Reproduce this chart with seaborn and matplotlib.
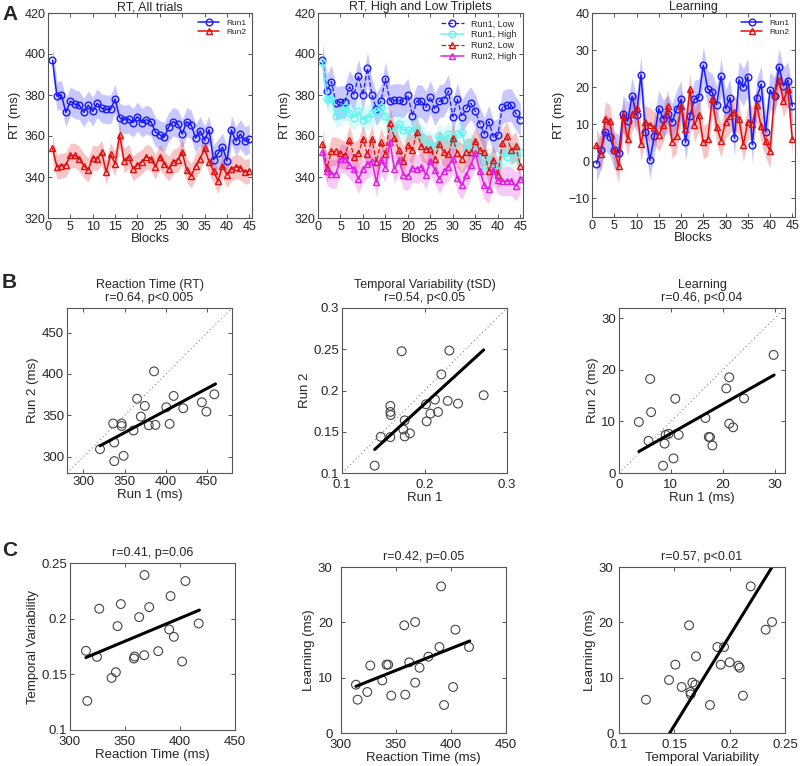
import numpy as np
import matplotlib
matplotlib.use("Agg")
import matplotlib.pyplot as plt
import seaborn as sns

sns.set_style("ticks")
plt.rcParams['font.family'] = ['Liberation Sans', 'DejaVu Sans']

# ---------------- DATA ----------------
blocks = list(range(1, 46))

all_run1 = [397, 379.5, 380, 371.5, 377, 375.5, 375, 371.5, 375, 372, 376, 373.5, 373, 373, 378,
            369, 368, 368.5, 366.5, 369.5, 366.5, 368, 367, 362, 360.5, 359.5, 364.5, 367, 366, 361,
            367, 365.5, 359, 362.5, 358, 363, 348.5, 351.5, 354.5, 348, 363, 357.5, 361, 357.5, 358.5]
all_run2 = [354, 345, 345.5, 346, 350.5, 350.5, 349, 345.5, 343.5, 349.5, 349, 352, 342.5, 351, 346.5,
            360.5, 348, 350, 344, 346, 347.5, 350, 349, 345, 350, 346.5, 344, 347.5, 348.5, 352,
            343.5, 340.5, 345.5, 349, 354, 347.5, 343, 338, 345.5, 341, 344, 345, 344.5, 342.5, 343]
all_err = {"Run1": 7, "Run2": 6}

run1_low = [397, 382, 386.5, 376, 376.5, 376.5, 384, 380, 389.5, 380, 393, 380, 373, 377, 388,
            377, 377.5, 377.5, 377, 380, 370, 377, 377, 374, 379, 373, 377, 377.5, 382, 369.5,
            378, 369.5, 373.5, 376, 372, 366, 361, 367, 359.5, 360.5, 374, 375, 375, 371, 368]
run1_high = [396, 378, 378, 370, 371, 374, 371, 369, 372, 368, 369, 371, 372, 374, 370,
             364, 363, 366, 363, 363, 362, 364, 360, 357, 356, 355, 360, 358, 361, 356,
             361, 362, 353, 356, 353, 351, 346, 349, 345, 346, 352, 350, 352, 350, 352]
run2_low = [356, 344.5, 352.5, 352.5, 351.5, 350.5, 358, 350, 351.5, 358.5, 351, 358.5, 347.5, 357, 351,
            366.5, 359, 353, 348, 355.5, 353, 362, 355, 353.5, 353.5, 349, 356, 352, 351, 359,
            351.5, 349, 352, 352, 357.5, 353, 352, 343, 348.5, 341, 356.5, 360, 353, 355, 345.5]
run2_high = [352, 343, 341.5, 341.5, 349, 349, 346, 344, 339, 344, 346.5, 348, 337.5, 348.5, 344.5,
             357, 344, 348.5, 341, 340.5, 344.5, 344, 345, 341, 348, 343.5, 339, 343, 345, 349,
             339.5, 336, 341, 346, 351.5, 343, 336, 334, 343.5, 338.5, 338, 338, 338, 335.5, 339]
trip_err = {"Run1, Low": 8, "Run1, High": 6, "Run2, Low": 7, "Run2, High": 7}

learn_run1 = [-0.6, 3, 8, 6.6, 3, 2.3, 12.8, 10.8, 17.6, 12.4, 23.4, 8, 0.3, 6.8, 14.2,
              11.5, 12.9, 10.6, 14.1, 16.7, 5.2, 12.2, 16.8, 17.3, 25.9, 19.5, 18.7, 15.3, 22.9, 14.2,
              17.2, 6.3, 22, 20, 22.8, 4.5, 17.1, 20.8, 8, 19.2, 17.6, 25.4, 20.4, 21.8, 14.9]
learn_run2 = [4.3, 1.9, 11.5, 10.8, 3, -1.3, 12.4, 5.9, 12.9, 14.4, 4.7, 10.6, 9.9, 9, 7.2,
              9.7, 15, 5.2, 6.9, 14.9, 8.8, 19.4, 9.7, 12.6, 5.2, 5.9, 16.9, 9.3, 5.6, 10.7,
              12.2, 13.2, 11.5, 4.5, 10.6, 10.2, 15.3, 9.4, 5.5, 2.7, 18.2, 21.9, 16.4, 19.5, 5.9]
learn_err = {"Run1": 5, "Run2": 4.5}

# B: run1 vs run2
rt_run1 = [320, 336, 337.3, 337.3, 346.2, 346.2, 348.6, 360.6, 365, 369.5, 374.3, 379.1, 385.5,
           387.1, 400.4, 404.4, 409.2, 420.9, 443.4, 449, 458.6]
rt_run2 = [308.9, 340, 317, 294.4, 340, 337, 300.8, 331.5, 370, 348.4, 361.3, 337.9, 403.2,
           338.3, 359.7, 339.5, 373.4, 358.5, 365.7, 354.4, 375.4]
rt_fit_x, rt_fit_y = [320, 460], [313, 388]

tsd_run1 = [0.1396, 0.1469, 0.1586, 0.1586, 0.1586, 0.159, 0.1723, 0.1743, 0.176, 0.176, 0.1824,
            0.2026, 0.2018, 0.2071, 0.2127, 0.2164, 0.2204, 0.2281, 0.2301, 0.2406, 0.2717]
tsd_run2 = [0.1089, 0.1439, 0.1435, 0.1813, 0.174, 0.1703, 0.2476, 0.1528, 0.1638, 0.1443, 0.148,
            0.1626, 0.1833, 0.172, 0.189, 0.174, 0.2195, 0.1874, 0.2484, 0.1841, 0.1943]
tsd_fit_x, tsd_fit_y = [0.1396, 0.2717], [0.1285, 0.2492]

lrn_run1 = [3.83, 5.68, 6.0, 6.19, 8.49, 10.5, 8.8, 9.0, 9.57, 10.85, 11.5, 16.66, 17.3, 17.55,
            18.0, 20.68, 21.25, 21.25, 22.0, 24.1, 29.8]
lrn_run2 = [9.9, 6.23, 18.24, 11.8, 1.41, 2.83, 5.7, 7.4, 7.6, 14.4, 7.4, 10.66, 7.0, 6.94,
            5.33, 16.4, 18.56, 9.57, 8.86, 14.45, 22.9]
lrn_fit_x, lrn_fit_y = [3.83, 29.9], [4.17, 19.0]

# C: cross-measure correlations
c1_rt = [314.5, 315.7, 324.5, 326.6, 337.8, 341.7, 343.2, 346.2, 358.1, 358.7, 362.9, 367.5, 367.7,
         372, 380.2, 390.2, 391.4, 394.4, 401.9, 404.9, 417]
c1_tsd = [0.1711, 0.1261, 0.1657, 0.2089, 0.1468, 0.1519, 0.1933, 0.2131, 0.1642, 0.166, 0.2014,
          0.1672, 0.2392, 0.2104, 0.1708, 0.1903, 0.2203, 0.1837, 0.1615, 0.2338, 0.1957]
c1_fit_x, c1_fit_y = [314.5, 417.6], [0.1651, 0.2077]

c2_rt = [313.6, 315.1, 323.9, 326.6, 337.5, 341.4, 342.9, 345.7, 357.5, 358.4, 362, 367.4, 367.4,
         371.4, 379.5, 389.5, 391, 393.7, 401.9, 404, 416.4]
c2_lrn = [8.73, 6.02, 7.41, 12.2, 9.5, 12.35, 12.35, 6.75, 19.46, 6.93, 12.77, 20.06, 9.1,
          11.8, 13.8, 15.54, 26.5, 5.06, 8.31, 18.67, 15.54]
c2_fit_x, c2_fit_y = [313.6, 417], [8.43, 16.63]

c3_tsd = [0.1244, 0.1452, 0.1509, 0.1566, 0.1633, 0.1645, 0.1648, 0.1663, 0.169, 0.1696, 0.1822,
          0.1889, 0.1919, 0.1949, 0.2, 0.2078, 0.209, 0.212, 0.219, 0.2325, 0.2383]
c3_lrn = [6.02, 9.58, 12.35, 8.31, 19.46, 7.41, 6.99, 9.1, 8.73, 13.86, 5.06, 15.54, 12.35, 15.54,
          12.77, 12.17, 11.8, 6.75, 26.5, 18.67, 20.06]
c3_fit_x, c3_fit_y = [0.1458, 0.2383], [0, 30]

# ---------------- STYLE ----------------
BLUE = '#1a1aff'
RED = '#e01010'
CYAN = '#5ff5f5'
MAGENTA = '#e020e0'
SPINE = '#555555'

W, H = 800, 766
fig = plt.figure(figsize=(W / 100, H / 100), dpi=100)


def ax_px(l, t, r, b):
    return fig.add_axes([l / W, (H - b) / H, (r - l) / W, (b - t) / H])


def style_axes(ax, fs=9, xpad=2, ypad=2):
    for s in ax.spines.values():
        s.set_visible(True)
        s.set_color(SPINE)
        s.set_linewidth(0.8)
    ax.tick_params(direction='in', top=True, right=True, length=3, width=0.7,
                   color=SPINE, labelsize=fs)
    ax.tick_params(axis='x', pad=xpad)
    ax.tick_params(axis='y', pad=ypad)


def series(ax, y, err, color, marker, ls, label):
    y = np.asarray(y, float)
    ax.fill_between(blocks, y - err, y + err, color=color, alpha=0.24, linewidth=0)
    sns.lineplot(x=blocks, y=y, ax=ax, color=color, linestyle=ls, linewidth=1.1 if ls == '-' else 0.9,
                 marker=marker, markersize=4.8, markerfacecolor='none',
                 markeredgecolor=color, markeredgewidth=1.0, label=label)


def top_axes(ax, ylim, yticks):
    ax.set_xlim(0, 45.6)
    ax.set_ylim(*ylim)
    ax.set_xticks(range(0, 46, 5))
    ax.set_yticks(yticks)
    ax.set_xlabel('Blocks', fontsize=9.5, labelpad=0)
    ax.set_ylabel('RT (ms)', fontsize=9.5, labelpad=2)
    style_axes(ax, 9)


def top_legend(ax, fs):
    ax.legend(loc='upper right', frameon=False, fontsize=fs, handlelength=2.6, borderaxespad=0.3,
              labelspacing=0.2, handletextpad=0.8)


# ---- A1 ----
ax = ax_px(48, 13, 252, 218)
series(ax, all_run1, all_err["Run1"], BLUE, 'o', '-', 'Run1')
series(ax, all_run2, all_err["Run2"], RED, '^', '-', 'Run2')
top_axes(ax, (320, 420), range(320, 421, 20))
ax.set_title('RT, All trials', fontsize=9, pad=2)
top_legend(ax, 6)

# ---- A2 ----
ax = ax_px(318, 13, 523, 218)
series(ax, run1_low, trip_err["Run1, Low"], BLUE, 'o', '--', 'Run1, Low')
series(ax, run1_high, trip_err["Run1, High"], CYAN, 'o', '-', 'Run1, High')
series(ax, run2_low, trip_err["Run2, Low"], RED, '^', '--', 'Run2, Low')
series(ax, run2_high, trip_err["Run2, High"], MAGENTA, '^', '-', 'Run2, High')
top_axes(ax, (320, 420), range(320, 421, 20))
ax.set_title('RT, High and Low Triplets', fontsize=9, pad=2)
top_legend(ax, 6.5)

# ---- A3 ----
ax = ax_px(592, 13, 795, 217)
series(ax, learn_run1, learn_err["Run1"], BLUE, 'o', '-', 'Run1')
series(ax, learn_run2, learn_err["Run2"], RED, '^', '-', 'Run2')
top_axes(ax, (-15, 40), range(-10, 41, 10))
ax.set_title('Learning', fontsize=9, pad=2)
top_legend(ax, 6)


def scatter_panel(box, x, y, fit_x, fit_y, lims, xticks, yticks, xlabel, ylabel, title,
                  ident=None, xticklabels=None, yticklabels=None, xpad=2, ypad=2):
    ax = ax_px(*box)
    sns.scatterplot(x=x, y=y, ax=ax, s=40, facecolor='none', edgecolor='#444444',
                    linewidth=0.8, legend=False)
    if ident is not None:
        ax.plot(ident, ident, linestyle=(0, (1, 2.5)), color='#888888', linewidth=0.8)
    ax.plot(fit_x, fit_y, color='black', linewidth=2.2)
    ax.set_xlim(*lims[0])
    ax.set_ylim(*lims[1])
    ax.set_xticks(xticks)
    ax.set_yticks(yticks)
    if xticklabels:
        ax.set_xticklabels(xticklabels)
    if yticklabels:
        ax.set_yticklabels(yticklabels)
    ax.set_xlabel(xlabel, fontsize=9.5, labelpad=1)
    ax.set_ylabel(ylabel, fontsize=9.5, labelpad=2)
    ax.set_title(title, fontsize=9, pad=5, linespacing=1.15)
    style_axes(ax, 9.5, xpad, ypad)
    return ax


# ---- B ----
scatter_panel((67, 308, 232, 473), rt_run1, rt_run2, rt_fit_x, rt_fit_y,
              ((280, 480), (280, 480)), [300, 350, 400, 450], [300, 350, 400, 450],
              'Run 1 (ms)', 'Run 2 (ms)', 'Reaction Time (RT)\nr=0.64, p<0.005', ident=[280, 480])
scatter_panel((342, 308, 507, 473), tsd_run1, tsd_run2, tsd_fit_x, tsd_fit_y,
              ((0.1, 0.3), (0.1, 0.3)), [0.1, 0.2, 0.3], [0.1, 0.15, 0.2, 0.25, 0.3],
              'Run 1', 'Run 2', 'Temporal Variability (tSD)\nr=0.54, p<0.05', ident=[0.1, 0.3],
              xticklabels=['0.1', '0.2', '0.3'], yticklabels=['0.1', '0.15', '0.2', '0.25', '0.3'],
              xpad=4)
scatter_panel((619, 308, 785, 473), lrn_run1, lrn_run2, lrn_fit_x, lrn_fit_y,
              ((0, 32), (0, 32)), [0, 10, 20, 30], [0, 10, 20, 30],
              'Run 1 (ms)', 'Run 2 (ms)', 'Learning\nr=0.46, p<0.04', ident=[0, 32], xpad=4)

# ---- C ----
scatter_panel((70, 563, 235, 730), c1_rt, c1_tsd, c1_fit_x, c1_fit_y,
              ((300, 450), (0.1, 0.25)), [300, 350, 400, 450], [0.1, 0.15, 0.2, 0.25],
              'Reaction Time (ms)', 'Temporal Variability', 'r=0.41, p=0.06',
              yticklabels=['0.1', '0.15', '0.2', '0.25'], xpad=4)
scatter_panel((341, 567, 506, 733), c2_rt, c2_lrn, c2_fit_x, c2_fit_y,
              ((300, 450), (0, 30)), [300, 350, 400, 450], [0, 10, 20, 30],
              'Reaction Time (ms)', 'Learning (ms)', 'r=0.42, p=0.05', xpad=4, ypad=6)
scatter_panel((619, 567, 785, 733), c3_tsd, c3_lrn, c3_fit_x, c3_fit_y,
              ((0.1, 0.25), (0, 30)), [0.1, 0.15, 0.2, 0.25], [0, 10, 20, 30],
              'Temporal Variability', 'Learning (ms)', 'r=0.57, p<0.01',
              xticklabels=['0.1', '0.15', '0.2', '0.25'], xpad=4, ypad=4)

# panel letters
for letter, ypx in [('A', 14), ('B', 283), ('C', 551)]:
    fig.text(2 / W, 1 - ypx / H, letter, fontsize=15, fontweight='bold', va='center', ha='left')

fig.savefig('out.png', dpi=100)
